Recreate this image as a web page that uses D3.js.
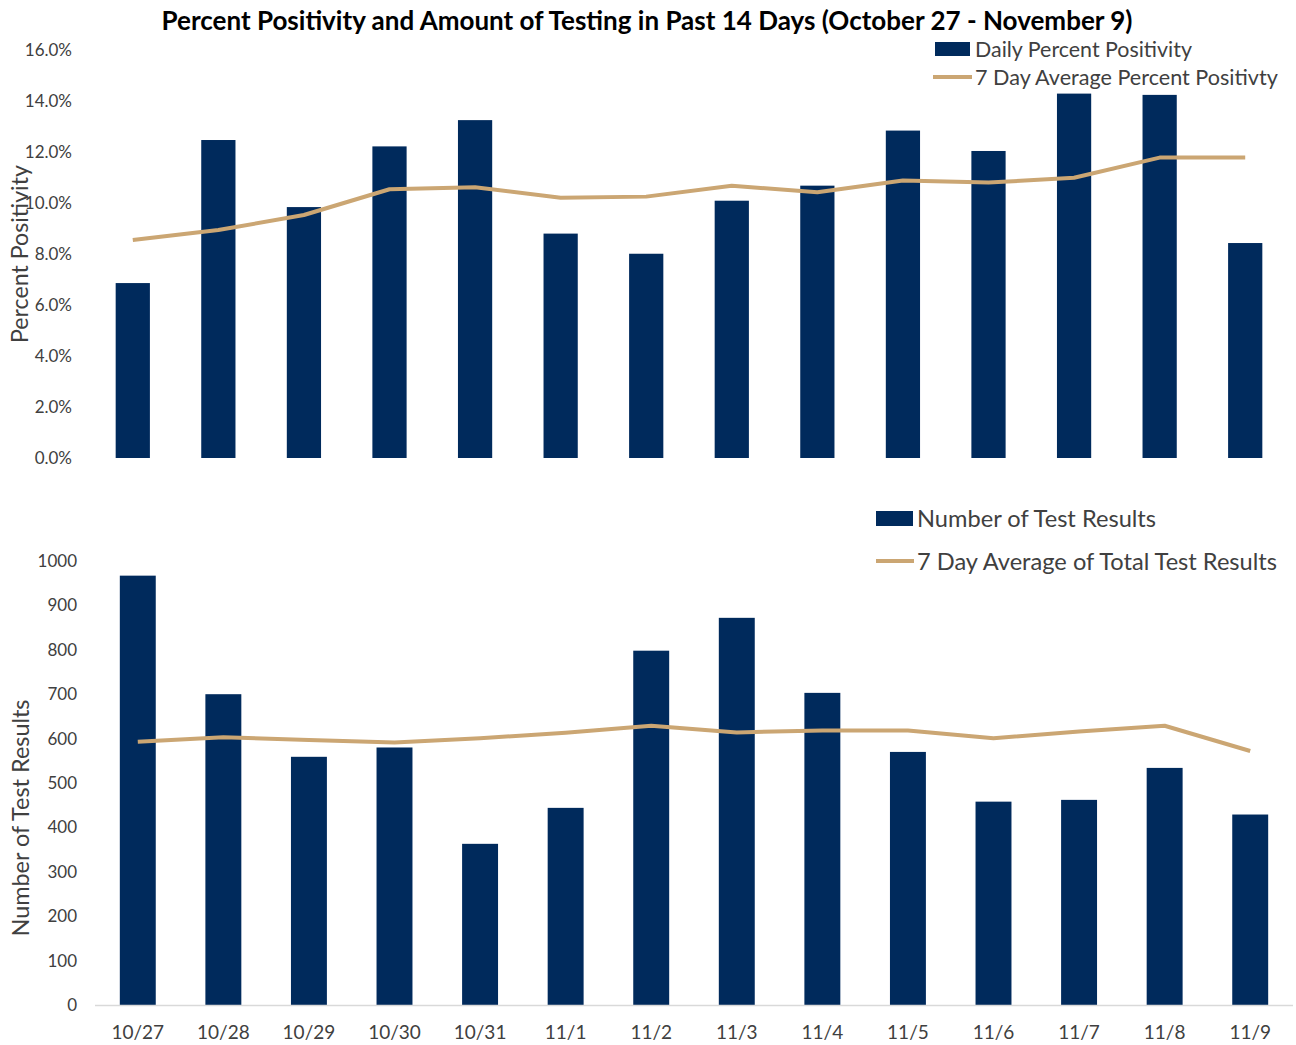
<!DOCTYPE html>
<html>
<head>
<meta charset="utf-8">
<script src="https://cdn.jsdelivr.net/npm/d3@7"></script>
<style>
  html, body { margin: 0; padding: 0; background: #fff; }
  svg { display: block; font-family: Lato, "Open Sans", sans-serif; }
</style>
</head>
<body>
<svg id="chart" width="1296" height="1045"></svg>
<script>
// ---- data ----
const dates = ["10/27","10/28","10/29","10/30","10/31","11/1","11/2","11/3","11/4","11/5","11/6","11/7","11/8","11/9"];
const dailyPositivity = [0.0686, 0.1247, 0.0984, 0.1222, 0.1325, 0.0880, 0.0801, 0.1009, 0.1068, 0.1284, 0.1204, 0.1429, 0.1424, 0.0843];
const avgPositivity   = [0.0855, 0.0894, 0.0953, 0.1054, 0.1062, 0.1021, 0.1025, 0.1068, 0.1042, 0.1088, 0.1080, 0.1099, 0.1178, 0.1178];
const testResults     = [967, 700, 559, 580, 363, 444, 798, 872, 703, 570, 458, 462, 534, 429];
const avgTestResults  = [593, 603, 597, 591, 601, 613, 629, 614, 618, 618, 601, 616, 629, 572];
const positivityTicks = [0, 0.02, 0.04, 0.06, 0.08, 0.10, 0.12, 0.14, 0.16];
const testTicks       = [0, 100, 200, 300, 400, 500, 600, 700, 800, 900, 1000];

const title = "Percent Positivity and Amount of Testing in Past 14 Days (October 27 - November 9)";
const NAVY = "#002a5c";
const TAN = "#cba673";
const TXT = "#404040";

const svg = d3.select("#chart");

// fit text to a target width by adjusting font size
function fit(sel, target) {
  const node = sel.node();
  let fs = parseFloat(sel.attr("font-size"));
  for (let i = 0; i < 3; i++) {
    const w = node.getComputedTextLength();
    if (w > 0) { fs = fs * target / w; sel.attr("font-size", fs); }
  }
  return sel;
}

// ---- title ----
fit(svg.append("text")
  .attr("x", 647).attr("y", 20).attr("text-anchor", "middle")
  .attr("dominant-baseline", "central")
  .attr("font-weight", "bold").attr("font-size", 20).attr("fill", "#000")
  .text(title), 971);

// ================= TOP CHART =================
const xTop = d3.scaleBand().domain(dates).range([90, 1288]).paddingInner(0.6).paddingOuter(0.3);
const yTop = d3.scaleLinear().domain([0, 0.16]).range([458, 50]);

const gTop = svg.append("g");
gTop.selectAll("rect.bar").data(dates).join("rect")
  .attr("class", "bar")
  .attr("x", d => xTop(d))
  .attr("width", xTop.bandwidth())
  .attr("y", (d, i) => yTop(dailyPositivity[i]))
  .attr("height", (d, i) => yTop(0) - yTop(dailyPositivity[i]))
  .attr("fill", NAVY);

gTop.append("path")
  .datum(avgPositivity)
  .attr("fill", "none").attr("stroke", TAN).attr("stroke-width", 4)
  .attr("stroke-linejoin", "round")
  .attr("d", d3.line().x((d, i) => xTop(dates[i]) + xTop.bandwidth() / 2).y(d => yTop(d)));

// y axis top
const yAxisTop = d3.axisLeft(yTop).tickValues(positivityTicks).tickFormat(d3.format(".1%")).tickSize(0).tickPadding(0);
const gyTop = svg.append("g").attr("transform", "translate(72,0)").call(yAxisTop);
gyTop.select(".domain").remove();
gyTop.selectAll("text").attr("font-size", 17).attr("fill", TXT).attr("font-family", "Lato, sans-serif");

// y title top
fit(svg.append("text")
  .attr("transform", "translate(19,254) rotate(-90)")
  .attr("text-anchor", "middle").attr("dominant-baseline", "central")
  .attr("font-size", 18).attr("fill", TXT)
  .text("Percent Positivity"), 178);

// legend top
svg.append("rect").attr("x", 935).attr("y", 42).attr("width", 35).attr("height", 14).attr("fill", NAVY);
const lt1 = svg.append("text").attr("x", 975).attr("y", 49).attr("dominant-baseline", "central")
  .attr("font-size", 18).attr("fill", TXT).text("Daily Percent Positivity");
fit(lt1, 217);
svg.append("line").attr("x1", 933).attr("x2", 972).attr("y1", 77).attr("y2", 77)
  .attr("stroke", TAN).attr("stroke-width", 4);
const lt2 = svg.append("text").attr("x", 975).attr("y", 77).attr("dominant-baseline", "central")
  .attr("font-size", 18).attr("fill", TXT).text("7 Day Average Percent Positivty");
fit(lt2, 303);

// ================= BOTTOM CHART =================
const xBot = d3.scaleBand().domain(dates).range([95, 1293]).paddingInner(0.58).paddingOuter(0.29);
const yBot = d3.scaleLinear().domain([0, 1000]).range([1005, 561]);

const gBot = svg.append("g");
gBot.selectAll("rect.bar").data(dates).join("rect")
  .attr("class", "bar")
  .attr("x", d => xBot(d))
  .attr("width", xBot.bandwidth())
  .attr("y", (d, i) => yBot(testResults[i]))
  .attr("height", (d, i) => yBot(0) - yBot(testResults[i]))
  .attr("fill", NAVY);

// baseline
svg.append("line").attr("x1", 95).attr("x2", 1293).attr("y1", 1005.5).attr("y2", 1005.5)
  .attr("stroke", "#d9d9d9").attr("stroke-width", 1.5);

gBot.append("path")
  .datum(avgTestResults)
  .attr("fill", "none").attr("stroke", TAN).attr("stroke-width", 4)
  .attr("stroke-linejoin", "round")
  .attr("d", d3.line().x((d, i) => xBot(dates[i]) + xBot.bandwidth() / 2).y(d => yBot(d)));

// y axis bottom
const yAxisBot = d3.axisLeft(yBot).tickValues(testTicks).tickFormat(d3.format("d")).tickSize(0).tickPadding(0);
const gyBot = svg.append("g").attr("transform", "translate(77,0)").call(yAxisBot);
gyBot.select(".domain").remove();
gyBot.selectAll("text").attr("font-size", 17).attr("fill", TXT).attr("font-family", "Lato, sans-serif");

// x axis bottom
const xAxisBot = d3.axisBottom(xBot).tickSize(0).tickPadding(0);
const gxBot = svg.append("g").attr("transform", "translate(0,1031)").call(xAxisBot);
gxBot.select(".domain").remove();
gxBot.selectAll("text").attr("font-size", 19).attr("fill", TXT).attr("font-family", "Lato, sans-serif")
  .attr("dy", null).attr("y", 0).attr("dominant-baseline", "central");

// y title bottom
fit(svg.append("text")
  .attr("transform", "translate(20,818) rotate(-90)")
  .attr("text-anchor", "middle").attr("dominant-baseline", "central")
  .attr("font-size", 19).attr("fill", TXT)
  .text("Number of Test Results"), 237);

// legend bottom
svg.append("rect").attr("x", 876).attr("y", 511).attr("width", 37).attr("height", 15).attr("fill", NAVY);
fit(svg.append("text").attr("x", 917).attr("y", 518).attr("dominant-baseline", "central")
  .attr("font-size", 20).attr("fill", TXT).text("Number of Test Results"), 239);
svg.append("line").attr("x1", 876).attr("x2", 914).attr("y1", 561).attr("y2", 561)
  .attr("stroke", TAN).attr("stroke-width", 4);
fit(svg.append("text").attr("x", 917).attr("y", 561).attr("dominant-baseline", "central")
  .attr("font-size", 20).attr("fill", TXT).text("7 Day Average of Total Test Results"), 360);
</script>
</body>
</html>
